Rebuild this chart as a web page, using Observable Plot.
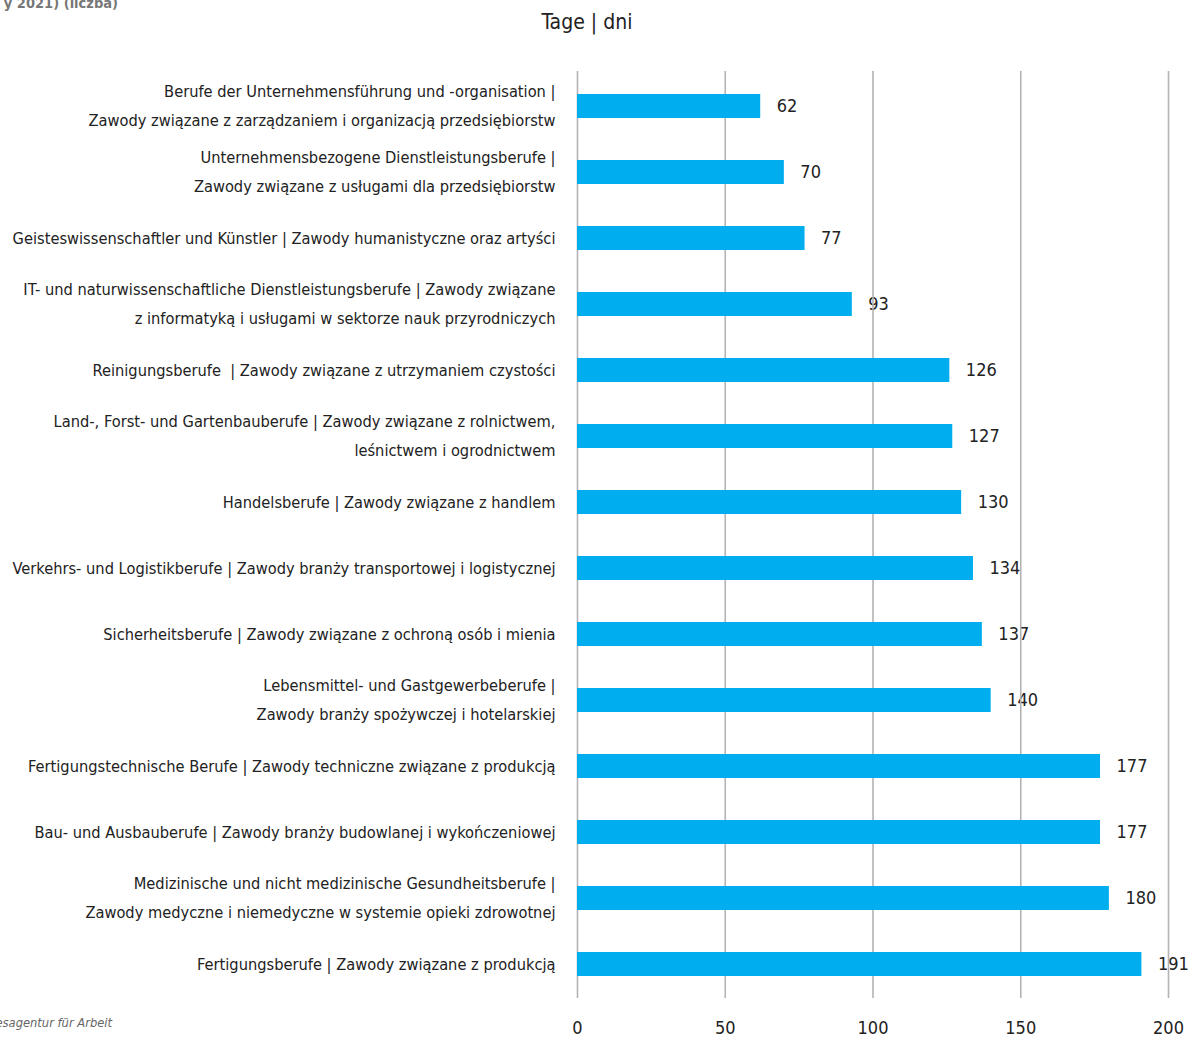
<!DOCTYPE html>
<html>
<head>
<meta charset="utf-8">
<script src="https://cdn.jsdelivr.net/npm/d3@7"></script>
<script src="https://cdn.jsdelivr.net/npm/@observablehq/plot@0.6"></script>
<style>
  html, body { margin: 0; padding: 0; background: #fff; }
  #wrap { position: relative; width: 1194px; height: 1039px; overflow: hidden;
    font-family: "DejaVu Sans Condensed", "Liberation Sans Narrow", sans-serif; color: #222; }
  #topnote { position: absolute; right: 1076px; top: -5px; font-size: 14.5px; font-weight: bold; color: #777; white-space: nowrap; }
  #title { position: absolute; left: 0; width: 1174px; top: 10px; text-align: center; font-size: 21px; color: #222; }
  #source { position: absolute; right: 1082px; top: 1015px; font-size: 12.8px; font-style: italic; color: #666; white-space: nowrap; }
  #chart { position: absolute; left: 0; top: 0; }
</style>
</head>
<body>
<div id="wrap">
  <div id="chart"></div>
  <div id="topnote">y 2021) (liczba)</div>
  <div id="title">Tage | dni</div>
  <div id="source">esagentur für Arbeit</div>
</div>
<script>
const categories = [
  "Berufe der Unternehmensführung und -organisation |\nZawody związane z zarządzaniem i organizacją przedsiębiorstw",
  "Unternehmensbezogene Dienstleistungsberufe |\nZawody związane z usługami dla przedsiębiorstw",
  "Geisteswissenschaftler und Künstler | Zawody humanistyczne oraz artyści",
  "IT- und naturwissenschaftliche Dienstleistungsberufe | Zawody związane\nz informatyką i usługami w sektorze nauk przyrodniczych",
  "Reinigungsberufe  | Zawody związane z utrzymaniem czystości",
  "Land-, Forst- und Gartenbauberufe | Zawody związane z rolnictwem,\nleśnictwem i ogrodnictwem",
  "Handelsberufe | Zawody związane z handlem",
  "Verkehrs- und Logistikberufe | Zawody branży transportowej i logistycznej",
  "Sicherheitsberufe | Zawody związane z ochroną osób i mienia",
  "Lebensmittel- und Gastgewerbeberufe |\nZawody branży spożywczej i hotelarskiej",
  "Fertigungstechnische Berufe | Zawody techniczne związane z produkcją",
  "Bau- und Ausbauberufe | Zawody branży budowlanej i wykończeniowej",
  "Medizinische und nicht medizinische Gesundheitsberufe |\nZawody medyczne i niemedyczne w systemie opieki zdrowotnej",
  "Fertigungsberufe | Zawody związane z produkcją"
];
const days = [62, 70, 77, 93, 126, 127, 130, 134, 137, 140, 177, 177, 180, 191];
const xTicks = [0, 50, 100, 150, 200];

const data = categories.map((c, i) => ({category: c, value: days[i]}));

const chart = Plot.plot({
  width: 1194,
  height: 1039,
  marginLeft: 577,
  marginRight: 26,
  marginTop: 71,
  marginBottom: 41,
  style: {fontFamily: '"DejaVu Sans Condensed", "Liberation Sans Narrow", sans-serif', color: "#222", background: "transparent"},
  x: {domain: [0, 200], ticks: xTicks},
  y: {domain: categories, paddingInner: 0.64, paddingOuter: 0.32, label: null},
  marks: [
    Plot.text(data, {x: "value", y: "category", text: d => String(d.value), dx: 16, textAnchor: "start", fontSize: 18, fill: "#222"}),
    Plot.ruleX(xTicks, {stroke: "#b3b3b3", strokeWidth: 1.6}),
    Plot.barX(data, {x: "value", y: "category", fill: "#00aeef"}),
    Plot.axisX({ticks: xTicks, tickSize: 0, tickPadding: 23, fontSize: 18, label: null}),
    Plot.axisY({tickSize: 0, tickPadding: 22, fontSize: 16.3, lineHeight: 1.78, dy: -4, label: null})
  ]
});
document.getElementById("chart").appendChild(chart);
</script>
</body>
</html>
